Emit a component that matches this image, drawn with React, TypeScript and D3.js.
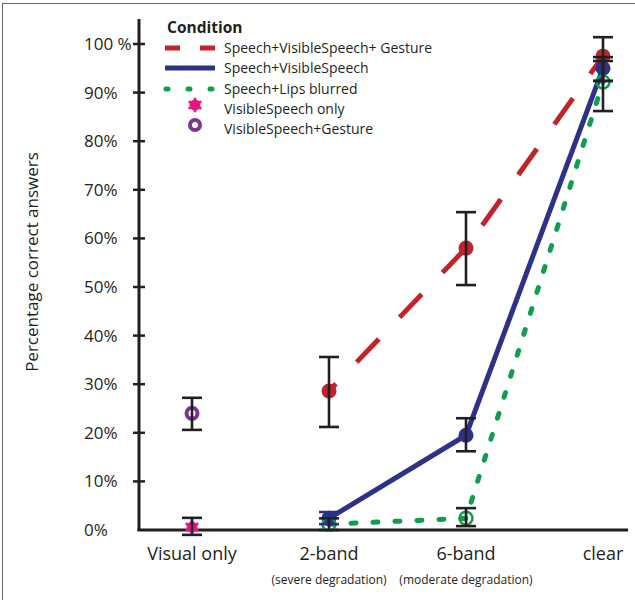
import React from 'react';
import * as d3 from 'd3';

// conditions on the x axis
const conditions = ['Visual only', '2-band', '6-band', 'clear'];
const conditionNotes = ['', '(severe degradation)', '(moderate degradation)', ''];
const yTicks = [0, 10, 20, 30, 40, 50, 60, 70, 80, 90, 100];
const yTickLabels = ['0%', '10%', '20%', '30%', '40%', '50%', '60%', '70%', '80%', '90%', '100 %'];

// line series (2-band, 6-band, clear)
const lineConditions = ['2-band', '6-band', 'clear'];
const gestureValues = [28.6, 58.0, 97.5];
const gestureLow = [21.2, 50.4, 92.4];
const gestureHigh = [35.6, 65.4, 101.4];

const speechValues = [2.4, 19.5, 95.0];
const speechLow = [1.2, 16.2, 92.4];
const speechHigh = [3.7, 23.0, 97.3];

const blurredValues = [1.2, 2.4, 92.2];
const blurredLow = [0.0, 0.8, 86.2];
const blurredHigh = [2.4, 4.5, 96.5];

// single points at "Visual only"
const visualOnlyValue = 0.6;
const visualOnlyRange = [-1.0, 2.5];
const visualGestureValue = 24.0;
const visualGestureRange = [20.6, 27.2];

const RED = '#c1232b';
const BLUE = '#2e3188';
const GREEN = '#0f9d4f';
const PINK = '#e8157f';
const PURPLE = '#7d3393';
const INK = '#231f20';
const FONT = '"Open Sans", sans-serif';

const x = d3.scalePoint<string>().domain(conditions).range([192, 603]);
const y = d3.scaleLinear().domain([0, 100]).range([530, 44]);

type Pt = { c: string; v: number; lo: number; hi: number };
const toPoints = (vals: number[], lo: number[], hi: number[]): Pt[] =>
  lineConditions.map((c, i) => ({ c, v: vals[i], lo: lo[i], hi: hi[i] }));

const gesture = toPoints(gestureValues, gestureLow, gestureHigh);
const speech = toPoints(speechValues, speechLow, speechHigh);
const blurred = toPoints(blurredValues, blurredLow, blurredHigh);

const line = d3.line<Pt>().x(d => x(d.c)!).y(d => y(d.v));

const ErrorBar = ({ c, lo, hi, color = INK }: { c: string; lo: number; hi: number; color?: string }) => {
  const cx = x(c)!;
  return (
    <g stroke={color} strokeWidth={2.6} fill="none">
      <line x1={cx} x2={cx} y1={y(lo)} y2={y(hi)} />
      <line x1={cx - 10} x2={cx + 10} y1={y(lo)} y2={y(lo)} />
      <line x1={cx - 10} x2={cx + 10} y1={y(hi)} y2={y(hi)} />
    </g>
  );
};

const asterisk = d3.symbol(d3.symbolAsterisk, 150)()!;

const PinkMark = ({ tx, ty }: { tx: number; ty: number }) => (
  <g transform={`translate(${tx}, ${ty})`}>
    <circle r={5.5} fill={PINK} />
    <path d={asterisk} stroke={PINK} strokeWidth={2.5} fill="none" />
  </g>
);

export default function App() {
  const legend = [
    { label: 'Speech+VisibleSpeech+ Gesture', y: 48 },
    { label: 'Speech+VisibleSpeech', y: 68 },
    { label: 'Speech+Lips blurred', y: 89 },
    { label: 'VisibleSpeech only', y: 109 },
    { label: 'VisibleSpeech+Gesture', y: 129 },
  ];

  return (
    <div style={{ position: 'absolute', left: 0, top: 0 }}>
      <svg width={635} height={600} style={{ display: 'block', background: '#fff' }}>
        <rect x={2.5} y={3.5} width={700} height={700} fill="none" stroke="#666" strokeWidth={1} />

        {/* y axis title */}
        <text
          transform="translate(38, 262) rotate(-90)"
          textAnchor="middle"
          fontFamily={FONT}
          fontSize={17}
          fill={INK}
        >
          Percentage correct answers
        </text>

        {/* axes */}
        <line x1={139} x2={139} y1={19} y2={y(0) + 1} stroke={INK} strokeWidth={3} />
        <line x1={137.5} x2={628} y1={y(0)} y2={y(0)} stroke={INK} strokeWidth={3} />
        {yTicks.map((t, i) => (
          <g key={t}>
            {t > 0 && <line x1={133} x2={145} y1={y(t)} y2={y(t)} stroke={INK} strokeWidth={2.5} />}
            <text x={84} y={y(t)} dy="0.35em" fontFamily={FONT} fontSize={17} fill={INK}>
              {yTickLabels[i]}
            </text>
          </g>
        ))}
        {conditions.map((c, i) => (
          <g key={c}>
            <text x={x(c)} y={560} textAnchor="middle" fontFamily={FONT} fontSize={18} fill={INK}>
              {c}
            </text>
            {conditionNotes[i] && (
              <text x={x(c)} y={584} textAnchor="middle" fontFamily={FONT} fontSize={12} fill={INK}>
                {conditionNotes[i]}
              </text>
            )}
          </g>
        ))}

        {/* lines */}
        <path d={line(gesture)!} fill="none" stroke={RED} strokeWidth={5} strokeDasharray="32 30" strokeDashoffset={22} />
        <path d={line(speech)!} fill="none" stroke={BLUE} strokeWidth={5} />
        <path d={line(blurred)!} fill="none" stroke={GREEN} strokeWidth={5} strokeDasharray="5 17" strokeLinecap="round" />

        {/* markers */}
        {gesture.map(d => (
          <g key={'r' + d.c}>
            <circle cx={x(d.c)} cy={y(d.v)} r={7.5} fill={RED} />
            <circle cx={x(d.c)} cy={y(d.v)} r={1} fill="#fff" />
          </g>
        ))}
        {speech.map(d => (
          <circle key={'b' + d.c} cx={x(d.c)} cy={y(d.v)} r={7.5} fill={BLUE} />
        ))}
        {blurred.map(d => (
          <circle key={'g' + d.c} cx={x(d.c)} cy={y(d.v)} r={6.5} fill="none" stroke={GREEN} strokeWidth={2.5} />
        ))}
        <circle cx={x('Visual only')} cy={y(visualGestureValue)} r={5.5} fill="#fff" stroke={PURPLE} strokeWidth={4} />
        <PinkMark tx={x('Visual only')!} ty={y(visualOnlyValue)} />

        {/* error bars */}
        {gesture.map(d => <ErrorBar key={'re' + d.c} c={d.c} lo={d.lo} hi={d.hi} />)}
        {speech.map((d, i) => (
          <ErrorBar key={'be' + d.c} c={d.c} lo={d.lo} hi={d.hi} color={i === 0 ? BLUE : INK} />
        ))}
        {blurred.map(d => <ErrorBar key={'ge' + d.c} c={d.c} lo={d.lo} hi={d.hi} />)}
        <ErrorBar c="Visual only" lo={visualOnlyRange[0]} hi={visualOnlyRange[1]} />
        <ErrorBar c="Visual only" lo={visualGestureRange[0]} hi={visualGestureRange[1]} />

        {/* legend */}
        <text x={167} y={28} dy="0.35em" fontFamily={FONT} fontSize={15.5} fontWeight="bold" fill={INK}>
          Condition
        </text>
        <line x1={165} x2={215} y1={48} y2={48} stroke={RED} strokeWidth={5} strokeDasharray="15 20" />
        <line x1={165} x2={215} y1={68} y2={68} stroke={BLUE} strokeWidth={5} />
        <line x1={166} x2={214} y1={89} y2={89} stroke={GREEN} strokeWidth={5} strokeDasharray="2 20" strokeLinecap="round" />
        <PinkMark tx={195} ty={105} />
        <circle cx={195} cy={125} r={5} fill="#fff" stroke={PURPLE} strokeWidth={4} />
        {legend.map(l => (
          <text key={l.label} x={224} y={l.y} dy="0.35em" fontFamily={FONT} fontSize={14} fill={INK}>
            {l.label}
          </text>
        ))}
      </svg>
    </div>
  );
}
